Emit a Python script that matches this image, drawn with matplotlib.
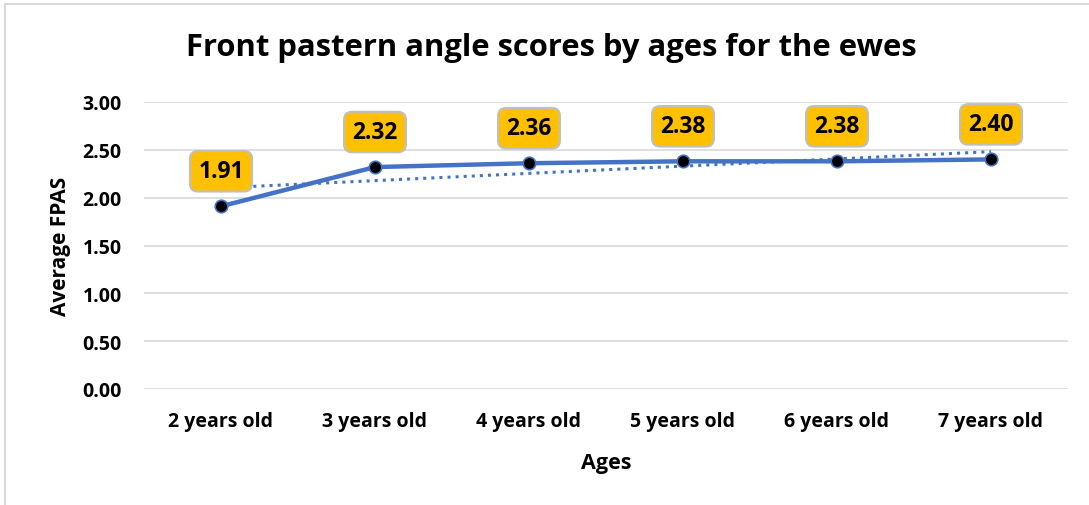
import matplotlib.pyplot as plt
from matplotlib.lines import Line2D
import numpy as np

plt.rcParams['font.family'] = ['Open Sans', 'DejaVu Sans']

ages = ['2 years old', '3 years old', '4 years old', '5 years old', '6 years old', '7 years old']
fpas = [1.91, 2.32, 2.36, 2.38, 2.38, 2.40]
yticks = [0.0, 0.5, 1.0, 1.5, 2.0, 2.5, 3.0]

blue = '#4472C4'

fig = plt.figure(figsize=(10.89, 5.06), dpi=100)
ax = fig.add_axes([144 / 1089, 1 - 390 / 506, (1068 - 144) / 1089, (390 - 103) / 506])

x = np.arange(1, len(ages) + 1)

# linear trendline like excel
k, b = np.polyfit(x, fpas, 1)
ax.plot(x, k * x + b, ':', color=blue, lw=2.2, zorder=2)

ax.plot(x, fpas, '-', color=blue, lw=3.2, zorder=3)
ax.plot(x, fpas, 'o', color='black', markeredgecolor=blue, markeredgewidth=1.2, ms=9, zorder=4)

for xi, v in zip(x, fpas):
    ax.annotate('%.2f' % v, (xi, v), xytext=(0, 35), textcoords='offset pixels',
                ha='center', va='center', fontsize=16.5, fontweight='bold',
                bbox=dict(boxstyle='round,pad=0.36,rounding_size=0.35', fc='#FFC000', ec='#BFBFBF', lw=1.5),
                zorder=5)

ax.set_xlim(0.5, len(ages) + 0.5)
ax.set_ylim(0, 3.0)
ax.set_yticks(yticks)
ax.set_yticklabels(['%.2f' % t for t in yticks], fontsize=14, fontweight='bold')
ax.set_xticks(x)
ax.set_xticklabels(ages, fontsize=14, fontweight='bold')
ax.tick_params(axis='both', length=0)
ax.tick_params(axis='y', pad=16)
ax.tick_params(axis='x', pad=16)
ax.grid(axis='y', color='#D9D9D9', lw=1.2)
ax.set_axisbelow(True)
for s in ax.spines.values():
    s.set_visible(False)

ax.set_xlabel('Ages', fontsize=15.5, fontweight='bold', labelpad=15)
ax.set_ylabel('Average FPAS', fontsize=15, fontweight='bold', labelpad=8)

fig.text(551 / 1089, 1 - 48 / 506, 'Front pastern angle scores by ages for the ewes',
         ha='center', va='center', fontsize=22.3, fontweight='bold')

# chart frame (top and left edges)
fig.add_artist(Line2D([5 / 1089, 1], [1 - 5 / 506, 1 - 5 / 506], color='#D9D9D9', lw=1.5))
fig.add_artist(Line2D([5 / 1089, 5 / 1089], [0, 1 - 5 / 506], color='#D9D9D9', lw=1.5))

fig.savefig('out.png', dpi=100)
